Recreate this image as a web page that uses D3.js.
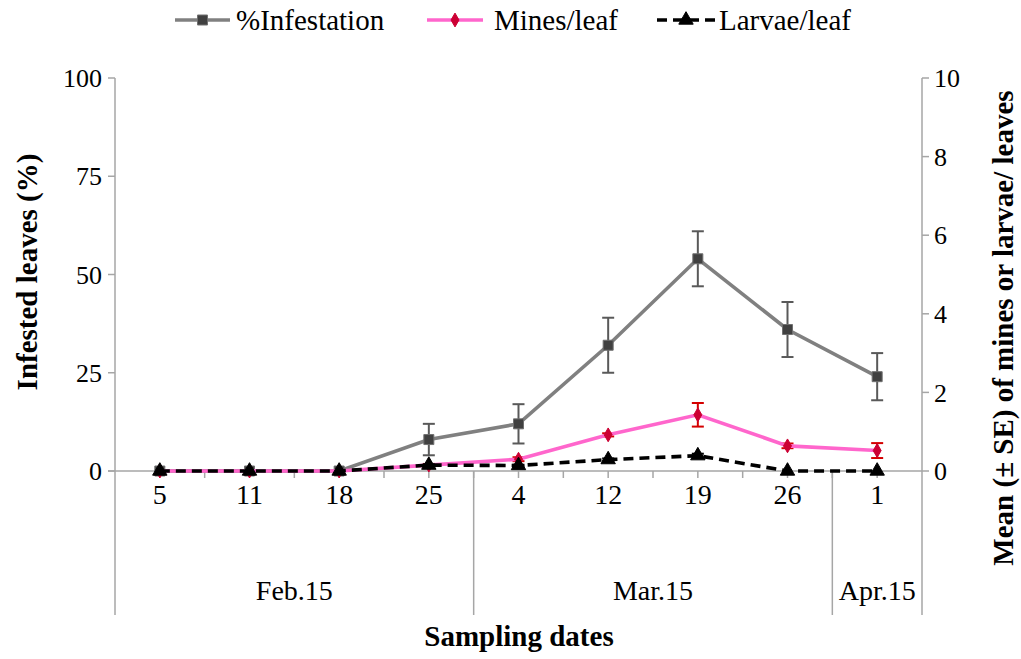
<!DOCTYPE html>
<html>
<head>
<meta charset="utf-8">
<script src="https://cdn.jsdelivr.net/npm/d3@7"></script>
<style>
  html, body { margin: 0; padding: 0; background: #fff; }
  #chart text { font-family: "Liberation Serif", "Times New Roman", Tinos, serif !important; }
</style>
</head>
<body>
<svg id="chart" width="1021" height="659"></svg>
<script>
// Sampling dates (day of month) and the month each group of dates belongs to
const dates = ["5", "11", "18", "25", "4", "12", "19", "26", "1"];
const months = ["Feb.15", "Mar.15", "Apr.15"];
const monthSizes = [4, 4, 1];

// % infested leaves (left axis) with standard error
const infestation = [0, 0, 0, 8, 12, 32, 54, 36, 24];
const infestationSE = [0, 0, 0, 4, 5, 7, 7, 7, 6];

// Mean mines per leaf (right axis) with standard error
const mines = [0, 0, 0, 0.15, 0.3, 0.92, 1.43, 0.64, 0.52];
const minesSE = [0, 0, 0, 0.03, 0.05, 0.04, 0.3, 0.06, 0.19];

// Mean larvae per leaf (right axis) with standard error
const larvae = [0, 0, 0, 0.15, 0.14, 0.29, 0.39, 0, 0];
const larvaeSE = [0, 0, 0, 0.02, 0.02, 0.03, 0.05, 0, 0];

const leftTicks = [0, 25, 50, 75, 100];
const rightTicks = [0, 2, 4, 6, 8, 10];

const FONT = "Liberation Serif";
const svg = d3.select("#chart");
const axisColor = "#a6a6a6";

const plot = { left: 115, right: 922, top: 78, bottom: 471, base: 615 };

const x = d3.scaleBand().domain(d3.range(dates.length)).range([plot.left, plot.right]).paddingInner(0).paddingOuter(0);
const cx = i => x(i) + x.bandwidth() / 2;
const yL = d3.scaleLinear().domain([0, 100]).range([plot.bottom, plot.top]);
const yR = d3.scaleLinear().domain([0, 10]).range([plot.bottom, plot.top]);

// every label is created through this helper so it carries the serif face
function label(parent) {
  return parent.append("text").attr("font-family", FONT).style("font-family", `"${FONT}"`).attr("fill", "#000");
}

// ---- Axes ----
const axes = svg.append("g").attr("stroke", axisColor).attr("stroke-width", 1.5);
axes.append("line").attr("x1", plot.left).attr("x2", plot.left).attr("y1", plot.top).attr("y2", plot.base);
axes.append("line").attr("x1", plot.right).attr("x2", plot.right).attr("y1", plot.top).attr("y2", plot.base);
axes.append("line").attr("x1", plot.left - 7).attr("x2", plot.right).attr("y1", plot.bottom).attr("y2", plot.bottom);

// Left y ticks
axes.selectAll(".lt").data(leftTicks).join("line")
  .attr("x1", plot.left - 7).attr("x2", plot.left)
  .attr("y1", d => yL(d)).attr("y2", d => yL(d));
const gl = svg.append("g");
leftTicks.forEach(t => {
  label(gl).attr("x", 102).attr("y", yL(t)).attr("dy", "0.35em")
    .attr("text-anchor", "end").attr("font-size", 26).text(t);
});

// Right y ticks
axes.selectAll(".rt").data(rightTicks).join("line")
  .attr("x1", plot.right).attr("x2", plot.right + 7)
  .attr("y1", d => yR(d)).attr("y2", d => yR(d));
const gr = svg.append("g");
rightTicks.forEach(t => {
  label(gr).attr("x", 934).attr("y", yR(t)).attr("dy", "0.35em")
    .attr("text-anchor", "start").attr("font-size", 26).text(t);
});

// Category tick marks at every half step
const halfSteps = d3.range(1, dates.length * 2).map(k => plot.left + k * x.bandwidth() / 2);
axes.selectAll(".ct").data(halfSteps).join("line")
  .attr("x1", d => d).attr("x2", d => d)
  .attr("y1", plot.bottom).attr("y2", plot.bottom + 7);

// Month separators
const bounds = [0];
monthSizes.forEach(s => bounds.push(bounds[bounds.length - 1] + s));
axes.selectAll(".sep").data(bounds.slice(1, -1)).join("line")
  .attr("x1", d => x(d)).attr("x2", d => x(d))
  .attr("y1", plot.bottom).attr("y2", plot.base);

// Date labels
const gd = svg.append("g");
dates.forEach((d, i) => {
  label(gd).attr("x", cx(i)).attr("y", 494).attr("dy", "0.35em")
    .attr("text-anchor", "middle").attr("font-size", 28).text(d);
});

// Month labels
const gm = svg.append("g");
months.forEach((m, i) => {
  const x0 = x(bounds[i]);
  const x1 = bounds[i + 1] < dates.length ? x(bounds[i + 1]) : plot.right;
  label(gm).attr("x", (x0 + x1) / 2).attr("y", 590).attr("dy", "0.35em")
    .attr("text-anchor", "middle").attr("font-size", 28).text(m);
});

// Axis titles
label(svg).attr("transform", "translate(37,272) rotate(-90)")
  .attr("text-anchor", "middle").attr("font-size", 29).attr("font-weight", "bold")
  .text("Infested leaves (%)");
label(svg).attr("transform", "translate(1013,328) rotate(-90)")
  .attr("text-anchor", "middle").attr("font-size", 29).attr("font-weight", "bold")
  .text("Mean (± SE) of mines or larvae/ leaves");
label(svg).attr("x", 519).attr("y", 646)
  .attr("text-anchor", "middle").attr("font-size", 29).attr("font-weight", "bold")
  .text("Sampling dates");

// ---- Series ----
const symSquare = d3.symbol().type(d3.symbolSquare).size(100);
const symDiamond = d3.symbol().type(d3.symbolDiamond).size(55);
const symTriangle = d3.symbol().type(d3.symbolTriangle).size(90);

const series = [
  { name: "%Infestation", vals: infestation, se: infestationSE, y: yL, line: "#808080", dash: null,
    sym: symSquare, fill: "#404040", mstroke: "#707070", err: "#595959" },
  { name: "Mines/leaf", vals: mines, se: minesSE, y: yR, line: "#ff66cc", dash: null,
    sym: symDiamond, fill: "#cc0033", mstroke: "#cc0033", err: "#d40000" },
  { name: "Larvae/leaf", vals: larvae, se: larvaeSE, y: yR, line: "#000000", dash: "10,6",
    sym: symTriangle, fill: "#000000", mstroke: "#000000", err: "#000000" }
];

series.forEach(s => {
  const g = svg.append("g");
  const pts = s.vals.map((v, i) => ({ i, v, e: s.se[i] }));
  // error bars
  const eb = g.selectAll(".eb").data(pts.filter(p => p.e > 0)).join("g")
    .attr("stroke", s.err).attr("stroke-width", 2);
  eb.append("line").attr("x1", p => cx(p.i)).attr("x2", p => cx(p.i))
    .attr("y1", p => s.y(p.v + p.e)).attr("y2", p => s.y(p.v - p.e));
  eb.append("line").attr("x1", p => cx(p.i) - 6).attr("x2", p => cx(p.i) + 6)
    .attr("y1", p => s.y(p.v + p.e)).attr("y2", p => s.y(p.v + p.e));
  eb.append("line").attr("x1", p => cx(p.i) - 6).attr("x2", p => cx(p.i) + 6)
    .attr("y1", p => s.y(p.v - p.e)).attr("y2", p => s.y(p.v - p.e));
  // line
  g.append("path").datum(pts)
    .attr("fill", "none").attr("stroke", s.line).attr("stroke-width", 3.6)
    .attr("stroke-dasharray", s.dash)
    .attr("d", d3.line().x(p => cx(p.i)).y(p => s.y(p.v)));
  // markers
  g.selectAll(".m").data(pts).join("path")
    .attr("transform", p => `translate(${cx(p.i)},${s.y(p.v)})`)
    .attr("d", s.sym()).attr("fill", s.fill).attr("stroke", s.mstroke).attr("stroke-width", 1);
});

// ---- Legend ----
const legendItems = [
  { s: series[0], x1: 175, x2: 230, tx: 236 },
  { s: series[1], x1: 427, x2: 483, tx: 494 },
  { s: series[2], x1: 657, x2: 715, tx: 719 }
];
const lg = svg.append("g");
legendItems.forEach(it => {
  const ly = 20;
  lg.append("line").attr("x1", it.x1).attr("x2", it.x2).attr("y1", ly).attr("y2", ly)
    .attr("stroke", it.s.line).attr("stroke-width", 3.6).attr("stroke-dasharray", it.s.dash);
  lg.append("path").attr("transform", `translate(${(it.x1 + it.x2) / 2},${ly})`)
    .attr("d", it.s.sym()).attr("fill", it.s.fill).attr("stroke", it.s.mstroke);
  label(lg).attr("x", it.tx).attr("y", ly).attr("dy", "0.35em")
    .attr("font-size", 29).text(it.s.name);
});
</script>
</body>
</html>
